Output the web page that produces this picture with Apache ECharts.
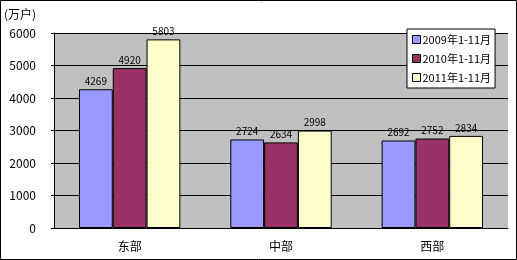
<!DOCTYPE html>
<html><head><meta charset="utf-8">
<script src="https://cdn.jsdelivr.net/npm/echarts@6/dist/echarts.min.js"></script>
<style>html,body{margin:0;padding:0;background:#fff}#c{width:517px;height:260px;}</style>
</head><body><div id="c"></div>
<script>
const categories = ['东部', '中部', '西部'];
const seriesNames = ['2009年1-11月', '2010年1-11月', '2011年1-11月'];
const v2009 = [4269, 2724, 2692];
const v2010 = [4920, 2634, 2752];
const v2011 = [5803, 2998, 2834];
const colors = ['#9999FF', '#993366', '#FFFFCC'];
const vals = [v2009, v2010, v2011];
const font = 'SimSun, "Noto Sans CJK SC", sans-serif';
const chart = echarts.init(document.getElementById('c'), null, {renderer: 'canvas'});
chart.setOption({
  animation: false,
  backgroundColor: '#fff',
  textStyle: {fontFamily: font},
  graphic: [
    {type: 'rect', shape: {x: 0.5, y: 0.5, width: 516, height: 259}, style: {fill: 'none', stroke: '#000', lineWidth: 1}, z: 100},
    {type: 'text', left: 4, top: 8, style: {text: '(万户)', font: '12px ' + font, fill: '#000'}}
  ],
  grid: {left: 54, right: 9, top: 33, bottom: 32, show: true, backgroundColor: '#C0C0C0', borderWidth: 0},
  legend: {
    orient: 'vertical', left: 407, top: 29, itemWidth: 8, itemHeight: 8, itemGap: 8,
    backgroundColor: '#fff', borderColor: '#000', borderWidth: 1, padding: [5, 4, 5, 5],
    textStyle: {fontSize: 11, color: '#000', padding: [0, 0, 0, -3]},
    data: seriesNames.map((n, i) => ({name: n, icon: 'rect', itemStyle: {borderColor: '#000', borderWidth: 1}}))
  },
  xAxis: {
    type: 'category', data: categories,
    axisLine: {lineStyle: {color: '#000'}},
    axisTick: {show: false},
    axisLabel: {color: '#000', fontSize: 12, margin: 12}
  },
  yAxis: {
    type: 'value', min: 0, max: 6000, interval: 1000,
    axisLine: {show: true, lineStyle: {color: '#000'}},
    axisTick: {show: true, length: 3, lineStyle: {color: '#000'}},
    axisLabel: {color: '#000', fontSize: 12, margin: 18, formatter: v => String(v)},
    splitLine: {lineStyle: {color: '#000', width: 1}}
  },
  series: seriesNames.map((n, i) => ({
    name: n, type: 'bar', data: vals[i], barGap: '0%', barCategoryGap: '33%',
    itemStyle: {color: colors[i], borderColor: '#000', borderWidth: 1},
    label: {show: true, position: 'top', color: '#000', fontSize: 10, distance: 3}
  }))
});
</script></body></html>
